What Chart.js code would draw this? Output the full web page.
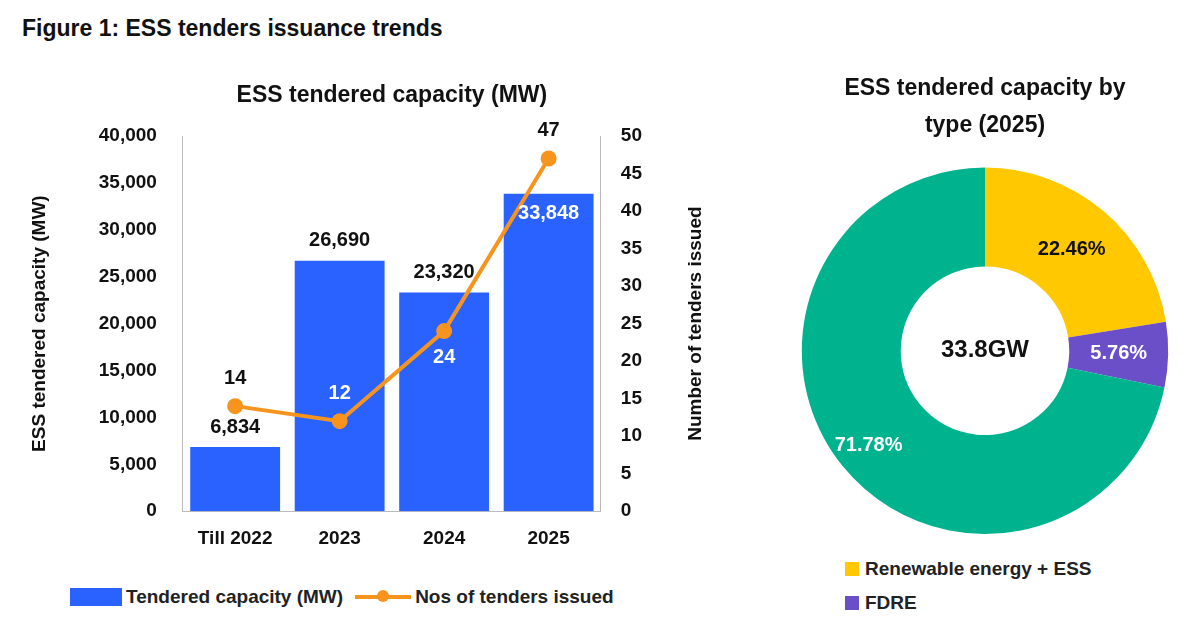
<!DOCTYPE html>
<html><head><meta charset="utf-8">
<script src="https://cdn.jsdelivr.net/npm/chart.js@4"></script>
<style>
body{margin:0;width:1200px;height:618px;background:#fff;font-family:Arial,"Liberation Sans",sans-serif;position:relative;overflow:hidden}
#t{position:absolute;left:22px;top:15px;font-size:23px;font-weight:bold;color:#111}
#c1w{position:absolute;left:28px;top:74px;width:690px;height:484px}
#c2w{position:absolute;left:775px;top:64px;width:420px;height:470px}
.lg{position:absolute;font-size:19px;font-weight:bold;color:#222;display:flex;align-items:center}
</style></head><body>
<div id="t">Figure 1: ESS tenders issuance trends</div>
<div id="c1w"><canvas id="c1"></canvas></div>
<div id="c2w"><canvas id="c2"></canvas></div>
<div class="lg" style="left:70px;top:586px"><span style="display:inline-block;width:52px;height:18px;background:#2962FF;margin-right:4px"></span>Tendered capacity (MW)
<span style="display:inline-block;width:56px;height:4px;background:#F7941D;margin-left:12px;margin-right:4px;position:relative"><span style="position:absolute;left:22px;top:-5px;width:12px;height:12px;border-radius:50%;background:#F7941D"></span></span>Nos of tenders issued</div>
<div class="lg" style="left:845px;top:558px"><span style="display:inline-block;width:14px;height:14px;background:#FFC800;margin-right:6px"></span>Renewable energy + ESS</div>
<div class="lg" style="left:845px;top:592px"><span style="display:inline-block;width:14px;height:14px;background:#6A4FC9;margin-right:6px"></span>FDRE</div>
<script>
const categories=["Till 2022","2023","2024","2025"];
const capacity=[6834,26690,23320,33848];
const tenders=[14,12,24,47];
const donutLabels=["Renewable energy + ESS","FDRE","Standalone ESS"];
const donutShares=[22.46,5.76,71.78];
const F="Arial, 'Liberation Sans', sans-serif";
const barLab=[{c:'#111',dy:-20},{c:'#111',dy:-20},{c:'#111',dy:-20},{c:'#fff',dy:20}];
const lineLab=[{c:'#111',dy:-28},{c:'#fff',dy:-28},{c:'#fff',dy:26},{c:'#111',dy:-28}];
const lab1={id:'lab1',afterDatasetsDraw(ch){const x=ch.ctx;x.save();x.font='bold 20px '+F;x.textAlign='center';x.textBaseline='middle';
ch.getDatasetMeta(0).data.forEach((e,i)=>{x.fillStyle=barLab[i].c;x.fillText(capacity[i].toLocaleString('en-US'),e.x,e.y+barLab[i].dy);});
ch.getDatasetMeta(1).data.forEach((e,i)=>{x.fillStyle=lineLab[i].c;x.fillText(tenders[i],e.x,e.y+lineLab[i].dy);});
const a=ch.chartArea;
x.fillStyle='#111';x.font='bold 23px '+F;x.fillText('ESS tendered capacity (MW)',(a.left+a.right)/2,22);
x.translate(ch.width-22,(a.top+a.bottom)/2);x.rotate(-Math.PI/2);x.font='bold 19px '+F;x.fillText('Number of tenders issued',0,0);
x.restore();}};
new Chart(document.getElementById('c1'),{data:{labels:categories,datasets:[
{type:'bar',data:capacity,backgroundColor:'#2962FF',yAxisID:'y',categoryPercentage:0.86,barPercentage:1,order:2},
{type:'line',data:tenders,borderColor:'#F7941D',backgroundColor:'#F7941D',borderWidth:4,pointRadius:6,yAxisID:'y1',order:1}]},
options:{responsive:true,maintainAspectRatio:false,animation:false,layout:{padding:{right:64,top:62}},
plugins:{legend:{display:false},tooltip:{enabled:false},title:{display:false}},
scales:{x:{grid:{display:false},border:{color:'#bbb'},ticks:{font:{size:19,weight:'bold',family:F},color:'#111',padding:8}},
y:{min:0,max:40000,ticks:{stepSize:5000,padding:18,font:{size:19,weight:'bold',family:F},color:'#111',callback:v=>v.toLocaleString('en-US')},grid:{display:false},border:{color:'#bbb'},title:{display:true,text:'ESS tendered capacity (MW)',padding:{top:0,bottom:30},font:{size:19,weight:'bold',family:F},color:'#111'}},
y1:{position:'right',min:0,max:50,ticks:{stepSize:5,padding:12,font:{size:19,weight:'bold',family:F},color:'#111'},grid:{display:false},border:{color:'#bbb'}}}},
plugins:[lab1]});
const donutColors=['#FFC800','#6A4FC9','#00B38F'];
const lab2={id:'lab2',afterDatasetsDraw(ch){const x=ch.ctx;x.save();x.font='bold 20px '+F;x.textAlign='center';x.textBaseline='middle';
const m=ch.getDatasetMeta(0).data;const cols=['#111','#fff','#fff'];
m.forEach((a,i)=>{const ang=(a.startAngle+a.endAngle)/2;let r=(a.innerRadius+a.outerRadius)/2;if(i==2)r=a.outerRadius*0.82;const ax=a.x+Math.cos(ang)*r,ay=a.y+Math.sin(ang)*r;x.fillStyle=cols[i];x.fillText(donutShares[i].toFixed(2)+'%',ax,ay);});
x.fillStyle='#111';x.font='bold 24px '+F;x.fillText('33.8GW',m[0].x,m[0].y);x.restore();}};
new Chart(document.getElementById('c2'),{type:'doughnut',data:{labels:donutLabels,datasets:[{data:donutShares,backgroundColor:donutColors,borderWidth:0}]},
options:{responsive:true,maintainAspectRatio:false,animation:false,cutout:'46%',
plugins:{legend:{display:false},tooltip:{enabled:false},title:{display:true,text:['ESS tendered capacity by','type (2025)'],font:{size:23,weight:'bold',family:F,lineHeight:1.6},color:'#111',padding:{top:6,bottom:24}}}},
plugins:[lab2]});
</script></body></html>
